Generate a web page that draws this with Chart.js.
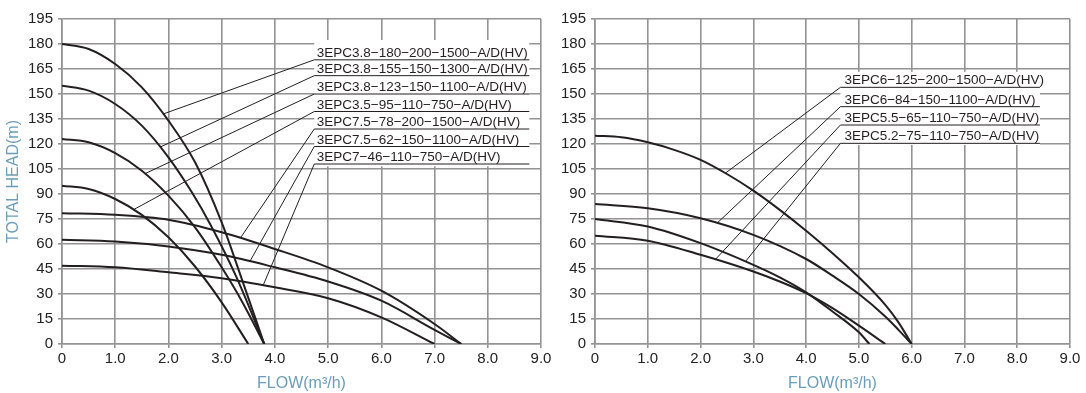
<!DOCTYPE html>
<html>
<head>
<meta charset="utf-8">
<script src="https://cdn.jsdelivr.net/npm/chart.js@4.4.1/dist/chart.umd.min.js"></script>
<style>
  html, body { margin: 0; padding: 0; background: #fff; }
  .wrap { position: absolute; top: 0; height: 393px; }
  #leftWrap { left: 0; width: 556px; }
  #rightWrap { left: 556px; width: 530px; }
</style>
</head>
<body>
<div class="wrap" id="leftWrap"><canvas id="chartLeft"></canvas></div>
<div class="wrap" id="rightWrap"><canvas id="chartRight"></canvas></div>
<script>
// ---- Left chart data (flow m3/h, head m) ----
const flow180 = [0, 0.5, 1, 1.5, 2, 2.5, 3, 3.4, 3.8];
const head180 = [180, 177, 168, 154, 134, 109, 73, 37, 0];
const flow155 = [0, 0.5, 1, 1.5, 2, 2.44, 2.8, 3.28, 3.8];
const head155 = [155, 152, 144, 131, 112, 91, 71, 40, 0];
const flow123 = [0, 0.5, 1, 1.5, 2, 2.5, 3, 3.4, 3.8];
const head123 = [123, 121, 114.5, 104, 89, 70, 46, 24.5, 0];
const flow95 = [0, 0.5, 1, 1.5, 2, 2.5, 3, 3.5];
const head95 = [95, 93, 87, 77.5, 64, 46.5, 25, 0];
const flow78 = [0, 1, 2, 3, 4, 5, 6, 7, 7.5];
const head78 = [78.5, 77.5, 74.5, 67, 57, 46, 32, 12, 0];
const flow62 = [0, 1, 2, 3, 4, 5, 6, 7, 7.5];
const head62 = [62.5, 61.5, 58.5, 53.5, 46, 37.5, 26, 8.5, 0];
const flow46 = [0, 1, 2, 3, 4, 5, 6, 7];
const head46 = [47, 46, 43, 39.5, 34, 27.5, 16, 0];

const leftNames = [
  '3EPC3.8−180−200−1500−A/D(HV)',
  '3EPC3.8−155−150−1300−A/D(HV)',
  '3EPC3.8−123−150−1100−A/D(HV)',
  '3EPC3.5−95−110−750−A/D(HV)',
  '3EPC7.5−78−200−1500−A/D(HV)',
  '3EPC7.5−62−150−1100−A/D(HV)',
  '3EPC7−46−110−750−A/D(HV)'
];
// flow where each leader line touches its curve
const leftLeaderFlow = [1.9, 1.84, 1.56, 1.34, 3.35, 3.53, 3.78];
// head of each label underline
const leftLabelHead = [170.5, 161, 150, 139.5, 129, 118.5, 108];

// ---- Right chart data ----
const flow125 = [0, 0.5, 1, 1.5, 2, 2.5, 3, 3.5, 4, 4.5, 5, 5.5, 5.75, 6];
const head125 = [125, 124, 121, 116.5, 110.5, 102, 92, 80.5, 68, 54.5, 40, 23.5, 13, 0];
const flow84 = [0, 1, 2, 3, 4, 4.5, 5, 5.5, 5.75, 6];
const head84 = [84, 81.5, 75.5, 65.5, 51, 41, 30, 16.5, 8.5, 0];
const flow65 = [0, 1, 2, 3, 3.5, 4, 4.5, 5, 5.5];
const head65 = [65, 62, 53.5, 43.5, 37.5, 30.5, 21.5, 11, 0];
const flow75 = [0, 1, 2, 3, 3.5, 4, 4.5, 5, 5.2];
const head75 = [75, 70.5, 60.5, 47.5, 40, 31, 19.5, 7, 0];

const rightNames = [
  '3EPC6−125−200−1500−A/D(HV)',
  '3EPC6−84−150−1100−A/D(HV)',
  '3EPC5.5−65−110−750−A/D(HV)',
  '3EPC5.2−75−110−750−A/D(HV)'
];
const rightLeaderFlow = [2.47, 2.31, 2.28, 2.85];
const rightLabelHead = [154, 142.4, 131.4, 120.4];

const flowTicks = [0, 1, 2, 3, 4, 5, 6, 7, 8, 9];
const headMax = 195;
const headStep = 15;

const curveColor = '#231f20';
const gridColor = '#939393';
const titleColor = '#6c9db6';

function interpHead(flows, heads, q) {
    for (let i = 1; i < flows.length; i++) {
        if (q <= flows[i]) {
            const t = (q - flows[i - 1]) / (flows[i] - flows[i - 1]);
            return heads[i - 1] + t * (heads[i] - heads[i - 1]);
        }
    }
    return heads[heads.length - 1];
}

function curveDataset(flows, heads) {
    return {
        data: flows.map((f, i) => ({ x: f, y: heads[i] })),
        borderColor: curveColor,
        borderWidth: 2,
        pointRadius: 0,
        fill: false,
        cubicInterpolationMode: 'monotone'
    };
}

function leaderDataset(flows, heads, q, labelHead, boxLeft, boxRight) {
    return {
        data: [
            { x: q, y: interpHead(flows, heads, q) },
            { x: boxLeft, y: labelHead },
            { x: boxRight, y: labelHead }
        ],
        borderColor: curveColor,
        borderWidth: 1,
        pointRadius: 0,
        tension: 0,
        fill: false
    };
}

// white label box + model names
function labelPlugin(names, rowHeads, boxLeft, boxRight, boxTop, boxBottom, textShift) {
    return {
        id: 'modelLabels',
        beforeDatasetsDraw(chart) {
            const xs = chart.scales.x, ys = chart.scales.y;
            const ctx = chart.ctx;
            ctx.save();
            ctx.fillStyle = '#fff';
            const l = xs.getPixelForValue(boxLeft), r = xs.getPixelForValue(boxRight);
            const t = ys.getPixelForValue(boxTop), b = ys.getPixelForValue(boxBottom);
            ctx.fillRect(l, t, r - l, b - t);
            ctx.restore();
        },
        afterDatasetsDraw(chart) {
            const xs = chart.scales.x, ys = chart.scales.y;
            const ctx = chart.ctx;
            ctx.save();
            ctx.fillStyle = curveColor;
            ctx.font = '13.5px "Liberation Sans", Arial, sans-serif';
            ctx.textBaseline = 'alphabetic';
            ctx.textAlign = 'left';
            names.forEach((name, i) => {
                const x = xs.getPixelForValue(boxLeft) + textShift;
                const y = ys.getPixelForValue(rowHeads[i]) - 3;
                ctx.fillText(name, x, y);
            });
            ctx.restore();
        }
    };
}

function makeOptions(showTitle, yWidth, padRight) {
    return {
        responsive: true,
        maintainAspectRatio: false,
        animation: false,
        layout: { padding: { left: 0, right: padRight, top: 19, bottom: 0 } },
        plugins: { legend: { display: false }, tooltip: { enabled: false } },
        scales: {
            x: {
                type: 'linear',
                min: 0,
                max: 9,
                afterBuildTicks: (axis) => { axis.ticks = flowTicks.map(v => ({ value: v })); },
                afterFit: (axis) => { axis.height = 49; },
                grid: { color: gridColor, lineWidth: 1.6, tickLength: 4 },
                border: { color: gridColor, width: 1.6 },
                ticks: {
                    color: '#222',
                    padding: 2,
                    maxRotation: 0,
                    font: { family: '"Liberation Sans", Arial, sans-serif', size: 15 },
                    callback: (v) => v === 0 ? '0' : v.toFixed(1)
                },
                title: {
                    display: true,
                    text: 'FLOW(m³/h)',
                    color: titleColor,
                    padding: { top: 2, bottom: 0 },
                    font: { family: '"Liberation Sans", Arial, sans-serif', size: 16 }
                }
            },
            y: {
                min: 0,
                max: headMax,
                afterFit: (axis) => { axis.width = yWidth; },
                grid: { color: gridColor, lineWidth: 1.6, tickLength: 4 },
                border: { color: gridColor, width: 1.6 },
                ticks: {
                    stepSize: headStep,
                    color: '#222',
                    padding: 5,
                    font: { family: '"Liberation Sans", Arial, sans-serif', size: 15 }
                },
                title: {
                    display: showTitle,
                    text: 'TOTAL HEAD(m)',
                    color: titleColor,
                    padding: { top: 4, bottom: 0 },
                    font: { family: '"Liberation Sans", Arial, sans-serif', size: 16 }
                }
            }
        }
    };
}

// Left chart
const leftFlows = [flow180, flow155, flow123, flow95, flow78, flow62, flow46];
const leftHeads = [head180, head155, head123, head95, head78, head62, head46];
const leftBoxL = 4.74, leftBoxR = 8.78;
const leftSets = leftFlows.map((f, i) => curveDataset(f, leftHeads[i]));
leftFlows.forEach((f, i) => {
    leftSets.push(leaderDataset(f, leftHeads[i], leftLeaderFlow[i], leftLabelHead[i], leftBoxL, leftBoxR));
});

new Chart(document.getElementById('chartLeft'), {
    type: 'line',
    data: { datasets: leftSets },
    options: makeOptions(true, 62, 15),
    plugins: [labelPlugin(leftNames, leftLabelHead, leftBoxL, leftBoxR, 182.4, 106.6, 2.5)]
});

// Right chart
const rightFlows = [flow125, flow84, flow65, flow75];
const rightHeads = [head125, head84, head65, head75];
const rightBoxL = 4.65, rightBoxR = 8.43;
const rightSets = rightFlows.map((f, i) => curveDataset(f, rightHeads[i]));
rightFlows.forEach((f, i) => {
    rightSets.push(leaderDataset(f, rightHeads[i], rightLeaderFlow[i], rightLabelHead[i], rightBoxL, rightBoxR));
});

new Chart(document.getElementById('chartRight'), {
    type: 'line',
    data: { datasets: rightSets },
    options: makeOptions(false, 39, 16),
    plugins: [labelPlugin(rightNames, rightLabelHead, rightBoxL, rightBoxR, 163.3, 119.4, 4)]
});
</script>
</body>
</html>
